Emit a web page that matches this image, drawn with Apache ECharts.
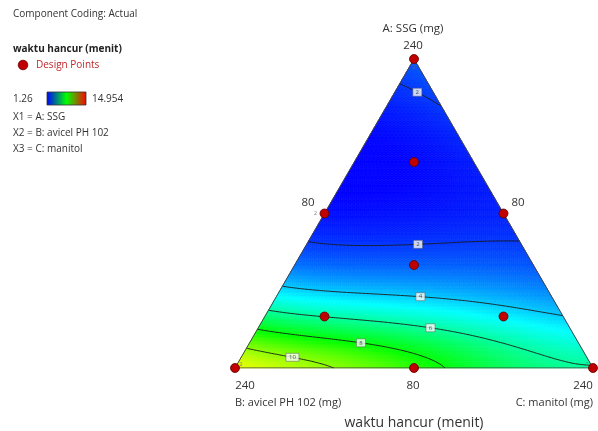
<!DOCTYPE html>
<html><head><meta charset="utf-8">
<script src="https://cdn.jsdelivr.net/npm/echarts@6/dist/echarts.min.js"></script>
<style>html,body{margin:0;padding:0;background:#fff}#c{width:598px;height:431px}</style>
</head><body><div id="c"></div>
<script>
// ---------- data ----------
// design points (fractions of A: SSG, B: avicel PH 102, C: manitol)
const designA = [1, 2/3, 1/3, 0.5, 0.5, 1/6, 1/6, 0, 0, 0];
const designC = [0, 1/6, 1/3, 0, 0.5, 1/6, 2/3, 0, 0.5, 1];
// replicate markers ("2") at design points
const repA = [1, 0.5, 0, 0];
const repC = [0, 0, 0, 1];
// response readings (waktu hancur, menit) at compositions
const sampleA = [1, 0.97, 0.94, 0.90, 0.80, 0.65, 0.50, 0.392, 0.278, 0.19, 0.12, 0.055, 0,
                 0.92, 0.825, 0.70, 0.55, 0.42, 0.168, 0.01,
                 0, 0, 0, 0,
                 0.882, 0.80, 0.667, 0.60, 0.50, 0.333, 0.395, 0.405, 0.41, 0.414,
                 0.243, 0.20, 0.123, 0.074, 0.074, 0.029, 0.039, 1/6, 1/6];
const sampleC = [0, 0, 0, 0, 0, 0, 0, 0, 0, 0, 0, 0, 0,
                 0.08, 0.175, 0.30, 0.45, 0.58, 0.832, 0.99,
                 0.288, 0.45, 0.628, 1,
                 0.087, 0.10, 0.167, 0.20, 0.25, 0.333, 0.152, 0.31, 0.45, 0.505,
                 0.40, 0.64, 0.486, 0.703, 0.312, 0.50, 0.142, 1/6, 2/3];
const sampleV = [2.6, 2.25, 2.0, 1.85, 1.6, 1.35, 1.4, 2.0, 4.0, 6.0, 8.0, 10.0, 11.8,
                 2.25, 2.0, 1.5, 1.6, 2.0, 4.0, 6.0,
                 10.0, 9.0, 8.0, 6.1,
                 2.0, 1.7, 1.35, 1.3, 1.35, 2.6, 2.0, 2.0, 2.0, 2.0,
                 4.0, 4.0, 6.0, 6.0, 8.0, 8.0, 10.0, 6.0, 4.6];
const contourLevels = [2, 4, 6, 8, 10];
// contour label anchors: level, A, C
const labelLevel = [2, 2, 4, 6, 8, 10];
const labelA = [0.90, 0.405, 0.243, 0.123, 0.074, 0.039];
const labelC = [0.06, 0.31, 0.40, 0.486, 0.312, 0.142];
const valueMin = 1.26, valueMax = 14.954;
const vertexTicks = ['240', '80', '240', '80', '240'];

// ---------- helpers ----------
const H = Math.sqrt(3) / 2;
const toXY = (A, C) => [C + A / 2, A * H];
function basis(A, B, C) {
  return [A, B, C, A*B, A*C, B*C, A*B*(A-B), A*C*(A-C), B*C*(B-C),
          A*B*(A-B)*(A-B), A*C*(A-C)*(A-C), B*C*(B-C)*(B-C), A*A*B*C, A*B*B*C, A*B*C*C];
}
// least-squares fit of a Scheffé quartic mixture model to ln(response)
function fitModel() {
  const P = 15;
  const M = Array.from({length: P}, () => new Array(P + 1).fill(0));
  for (let k = 0; k < sampleA.length; k++) {
    const A = sampleA[k], C = sampleC[k], B = 1 - A - C;
    const b = basis(A, B, C);
    const w = Number.isInteger(sampleV[k]) ? 3 : 1;
    const y = Math.log(sampleV[k]);
    for (let i = 0; i < P; i++) {
      for (let j = 0; j < P; j++) M[i][j] += w * b[i] * b[j];
      M[i][P] += w * b[i] * y;
    }
  }
  for (let i = 0; i < P; i++) M[i][i] += 1e-7;
  for (let i = 0; i < P; i++) {
    let p = i;
    for (let r = i + 1; r < P; r++) if (Math.abs(M[r][i]) > Math.abs(M[p][i])) p = r;
    [M[i], M[p]] = [M[p], M[i]];
    for (let r = 0; r < P; r++) {
      if (r === i) continue;
      const f = M[r][i] / M[i][i];
      for (let c = i; c <= P; c++) M[r][c] -= f * M[i][c];
    }
  }
  return M.map((row, i) => row[P] / row[i]);
}
const coef = fitModel();
function model(A, C) {
  const B = 1 - A - C;
  const b = basis(A, B, C);
  let s = 0; for (let i = 0; i < b.length; i++) s += coef[i] * b[i];
  return Math.exp(s);
}

// triangulated mesh
const N = 90;
const vid = (a, c) => a * (N + 1) + c;
const vals = {}, xy = {};
for (let a = 0; a <= N; a++) for (let c = 0; c <= N - a; c++) {
  vals[vid(a, c)] = model(a / N, c / N);
  xy[vid(a, c)] = toXY(a / N, c / N);
}
const tris = [];
for (let a = 0; a < N; a++) for (let c = 0; c < N - a; c++) {
  tris.push([vid(a, c), vid(a, c + 1), vid(a + 1, c)]);
  if (a + c + 2 <= N) tris.push([vid(a + 1, c), vid(a, c + 1), vid(a + 1, c + 1)]);
}
const fieldData = tris.map(t => {
  const v = (vals[t[0]] + vals[t[1]] + vals[t[2]]) / 3;
  const p = t.map(i => xy[i]);
  return [(p[0][0] + p[1][0] + p[2][0]) / 3, (p[0][1] + p[1][1] + p[2][1]) / 3,
          Math.min(valueMax, Math.max(valueMin, v))];
});

// contours (marching triangles + chaining)
function contour(level) {
  const segs = [];
  for (const t of tris) {
    const pts = [];
    for (const [i, j] of [[t[0], t[1]], [t[1], t[2]], [t[2], t[0]]]) {
      const lo = Math.min(i, j), hi = Math.max(i, j);
      const v1 = vals[lo] - level, v2 = vals[hi] - level;
      if ((v1 < 0) !== (v2 < 0)) {
        const f = v1 / (v1 - v2);
        pts.push({key: lo + '-' + hi, p: [xy[lo][0] + f * (xy[hi][0] - xy[lo][0]), xy[lo][1] + f * (xy[hi][1] - xy[lo][1])]});
      }
    }
    if (pts.length === 2) segs.push(pts);
  }
  const adj = new Map();
  segs.forEach((s, k) => s.forEach(e => { if (!adj.has(e.key)) adj.set(e.key, []); adj.get(e.key).push(k); }));
  const used = new Array(segs.length).fill(false);
  const lines = [];
  function walk(k, fromKey) {
    const out = [];
    let cur = k, key = fromKey;
    while (cur !== undefined && !used[cur]) {
      used[cur] = true;
      const s = segs[cur];
      const next = s[0].key === key ? s[1] : s[0];
      out.push(next.p);
      key = next.key;
      cur = (adj.get(key) || []).find(x => !used[x]);
    }
    return out;
  }
  for (let k = 0; k < segs.length; k++) {
    if (used[k]) continue;
    const s = segs[k];
    used[k] = true;
    const fwd = (() => { const n = (adj.get(s[1].key) || []).find(x => !used[x]); return n === undefined ? [] : walk(n, s[1].key); })();
    const bwd = (() => { const n = (adj.get(s[0].key) || []).find(x => !used[x]); return n === undefined ? [] : walk(n, s[0].key); })();
    lines.push(bwd.reverse().concat([s[0].p, s[1].p], fwd));
  }
  return lines;
}
const contourLines = [];
const contourByLevel = {};
contourLevels.forEach(L => { const ls = contour(L); contourByLevel[L] = ls; ls.forEach(l => contourLines.push({coords: l})); });

const labelData = labelLevel.map((L, i) => {
  const target = toXY(labelA[i], labelC[i]);
  let best = target, bd = Infinity;
  (contourByLevel[L] || []).forEach(l => l.forEach(p => {
    const d = (p[0] - target[0]) ** 2 + (p[1] - target[1]) ** 2;
    if (d < bd) { bd = d; best = p; }
  }));
  return {value: [best[0], best[1], L], symbolSize: [String(L).length * 4 + 5, 8]};
});

const designData = designA.map((A, i) => toXY(A, designC[i]));
const repOffsets = [[0, 8], [-9, 0], [6, -4], [-6, -4]];
const repData = repA.map((A, i) => ({value: toXY(A, repC[i]), label: {offset: repOffsets[i]}}));

const FONT = '"Segoe UI", "Open Sans", "Noto Sans", sans-serif';
const txt = (x, y, s, o = {}) => ({type: 'text', x, y, style: Object.assign({text: s, fontFamily: FONT, fontSize: 10, fill: '#333', textVerticalAlign: 'middle', verticalAlign: 'middle'}, o)});

const chart = echarts.init(document.getElementById('c'));
chart.setOption({
  animation: false,
  grid: {left: 235, right: 5, top: 59, bottom: 63},
  xAxis: {type: 'value', min: 0, max: 1, show: false},
  yAxis: {type: 'value', min: 0, max: H, show: false},
  visualMap: {show: false, type: 'continuous', seriesIndex: 0, dimension: 2, min: valueMin, max: valueMax,
    inRange: {color: ['#0000ff', '#00ffff', '#00ff00', '#ffff00', '#ff0000']}},
  series: [
    {type: 'custom', coordinateSystem: 'cartesian2d', progressive: 0, silent: true, data: fieldData,
     encode: {x: 0, y: 1},
     renderItem(params, api) {
       const t = tris[params.dataIndex];
       const pts = t.map(i => api.coord(xy[i]));
       const col = api.visual('color');
       return {type: 'polygon', shape: {points: pts}, style: {fill: col, stroke: col, lineWidth: 0.7}};
     }},
    {type: 'lines', coordinateSystem: 'cartesian2d', polyline: true, silent: true, data: contourLines,
     lineStyle: {color: '#1a1a1a', width: 0.9, opacity: 1}},
    {type: 'lines', coordinateSystem: 'cartesian2d', polyline: true, silent: true,
     data: [{coords: [[0, 0], [1, 0], [0.5, H], [0, 0]]}], lineStyle: {color: '#444', width: 1, opacity: 1}},
    {type: 'scatter', symbol: 'rect', silent: true, data: labelData, z: 5,
     itemStyle: {color: '#fff', borderColor: '#555', borderWidth: 0.6},
     label: {show: true, position: 'inside', formatter: p => p.value[2], fontSize: 6, color: '#222', fontFamily: FONT}},
    {type: 'scatter', symbol: 'circle', symbolSize: 9, silent: true, data: designData, z: 6,
     itemStyle: {color: '#c00000', borderColor: '#5a0000', borderWidth: 0.8, opacity: 1}},
    {type: 'scatter', symbolSize: 0, silent: true, data: repData, z: 7,
     label: {show: true, position: 'inside', formatter: '2', fontSize: 6, color: '#666', fontFamily: FONT}}
  ],
  graphic: [
    txt(13, 14, 'Component Coding: Actual'),
    txt(13, 49, 'waktu hancur (menit)', {fontWeight: 'bold', fill: '#222'}),
    {type: 'circle', shape: {cx: 23, cy: 65, r: 4.8}, style: {fill: '#c00000', stroke: '#6a0000', lineWidth: 0.8}},
    txt(36, 65, 'Design Points', {fill: '#c0282d'}),
    txt(13, 99, '1.26'),
    {type: 'rect', shape: {x: 47, y: 92, width: 39, height: 13},
     style: {stroke: '#333', lineWidth: 0.8, fill: new echarts.graphic.LinearGradient(0, 0, 1, 0,
       [{offset: 0, color: '#0000ff'}, {offset: 0.5, color: '#00ff00'}, {offset: 1, color: '#ff0000'}])}},
    txt(92, 99, '14.954'),
    txt(13, 117, 'X1 = A: SSG'),
    txt(13, 133, 'X2 = B: avicel PH 102'),
    txt(13, 149, 'X3 = C: manitol'),
    txt(413, 29, 'A: SSG (mg)', {fontSize: 11.5, align: 'center', textAlign: 'center'}),
    txt(413, 46, vertexTicks[0], {fontSize: 11.5, align: 'center', textAlign: 'center'}),
    txt(308, 203, vertexTicks[1], {fontSize: 11.5, align: 'center', textAlign: 'center'}),
    txt(518, 203, vertexTicks[3], {fontSize: 11.5, align: 'center', textAlign: 'center'}),
    txt(245, 386, vertexTicks[2], {fontSize: 11.5, align: 'center', textAlign: 'center'}),
    txt(413, 386, '80', {fontSize: 11.5, align: 'center', textAlign: 'center'}),
    txt(583, 386, vertexTicks[4], {fontSize: 11.5, align: 'center', textAlign: 'center'}),
    txt(235, 403, 'B: avicel PH 102 (mg)', {fontSize: 11}),
    txt(593, 403, 'C: manitol (mg)', {fontSize: 11, align: 'right', textAlign: 'right'}),
    txt(414, 423, 'waktu hancur (menit)', {fontSize: 14, align: 'center', textAlign: 'center'})
  ]
});
</script></body></html>
